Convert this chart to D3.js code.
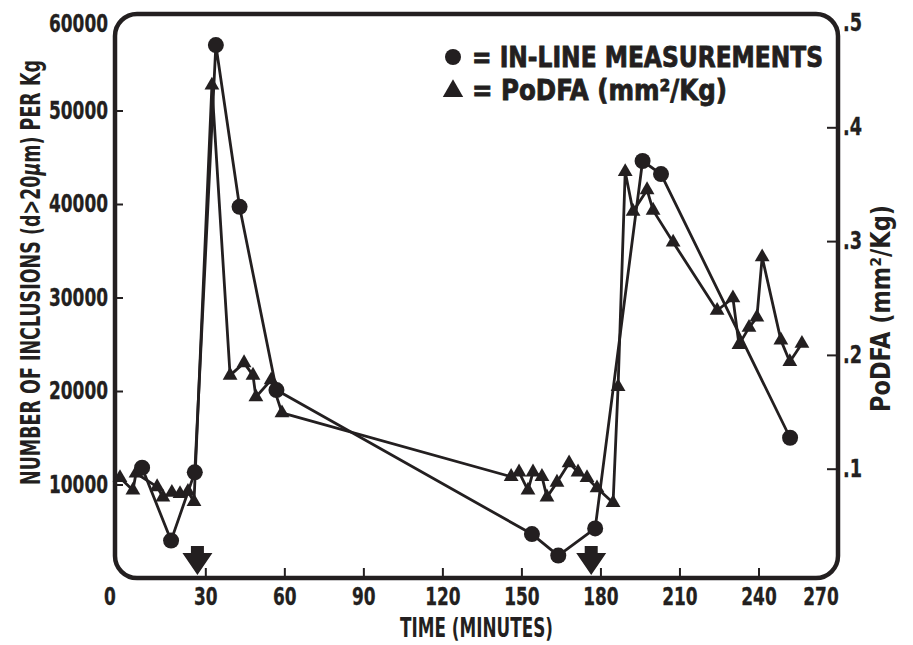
<!DOCTYPE html>
<html><head><meta charset="utf-8">
<script src="https://cdn.jsdelivr.net/npm/d3@7"></script>
<style>
body{margin:0;background:#fff;}
svg{display:block;background:#fff;}
text{font-family:'Liberation Sans Narrow','DejaVu Sans Condensed','DejaVu Sans',sans-serif;font-stretch:condensed;font-weight:bold;fill:#231f20;}
</style></head><body>
<svg id="chart" width="913" height="645"></svg>
<script>
// ---- data ----
const inlineTime  = [6, 17, 26, 34, 43, 57, 154, 164, 178, 196, 203, 252];
const inlineCount = [11800, 4000, 11300, 57000, 39700, 20100, 4700, 2400, 5300, 44600, 43200, 15000];

const podfaTime = [-2.4, 2.5, 3.7, 11.7, 13.9, 17.3, 20.4, 23.4, 25.7, 32.5, 39.4, 44.7, 48.1, 49.2, 55, 59.1,
                   146.1, 149.1, 152.5, 154.4, 157.8, 159.7, 163.5, 168.1, 171.5, 174.9, 178.7, 184.8, 186.7,
                   189.4, 192.4, 197.7, 200, 207.6, 224.3, 230.3, 232.6, 236.4, 239.4, 241.4, 248.5, 251.9, 256.5];
const podfaArea = [0.092, 0.081, 0.096, 0.084, 0.075, 0.079, 0.078, 0.080, 0.071, 0.437, 0.182, 0.193, 0.182, 0.163, 0.178, 0.149,
                   0.093, 0.097, 0.081, 0.097, 0.093, 0.075, 0.088, 0.105, 0.097, 0.092, 0.083, 0.070, 0.172,
                   0.361, 0.326, 0.345, 0.327, 0.299, 0.239, 0.250, 0.209, 0.224, 0.233, 0.286, 0.213, 0.194, 0.210];

const arrowTime = [27, 176.5];

const xTicks = [0, 30, 60, 90, 120, 150, 180, 210, 240, 270];
const leftTicks = [10000, 20000, 30000, 40000, 50000, 60000];
const rightTicks = [0.1, 0.2, 0.3, 0.4, 0.5];

const legendLabels = ["= IN-LINE MEASUREMENTS", "= PoDFA (mm\u00B2/Kg)"];
const xTitle = "TIME (MINUTES)";
const rightTitle = "PoDFA (mm\u00B2/Kg)";

// ---- layout ----
const ink = "#231f20";
const frame = {x0: 115, x1: 838, y0: 14, y1: 578};
const svg = d3.select("#chart");
svg.append("rect").attr("width", 913).attr("height", 645).attr("fill", "#fff");

const x = d3.scaleLinear().domain([0, 270]).range([126.3, 837.5]);
const yL = d3.scaleLinear().domain([0, 60000]).range([578, 17]);
const yR = d3.scaleLinear().domain([0, 0.5]).range([582.5, 13.5]);

// frame
svg.append("rect")
  .attr("x", frame.x0).attr("y", frame.y0)
  .attr("width", frame.x1 - frame.x0).attr("height", frame.y1 - frame.y0)
  .attr("rx", 22).attr("ry", 22)
  .attr("fill", "none").attr("stroke", ink).attr("stroke-width", 4.5);

function styleAxis(g) {
  g.select(".domain").remove();
  g.selectAll(".tick line").attr("stroke", ink).attr("stroke-width", 2);
  g.selectAll(".tick text").attr("fill", ink).attr("font-family", null).attr("font-size", null)
    .style("font-size", "24px").style("font-weight", "bold")
    .attr("stroke", ink).attr("stroke-width", 0.3)
    .attr("lengthAdjust", "spacingAndGlyphs")
    .attr("textLength", function() {
      const s = this.textContent;
      return s.startsWith(".") ? 19 : s.length * 11.8;
    });
}

// left axis
const gL = svg.append("g").attr("transform", `translate(${frame.x0},0)`)
  .call(d3.axisLeft(yL).tickValues(leftTicks).tickSize(-8).tickPadding(7).tickFormat(d3.format("d")));
styleAxis(gL);
gL.selectAll(".tick").filter(d => d === 60000).select("line").remove();
gL.selectAll(".tick").filter(d => d === 60000).select("text").attr("y", 7);

// right axis
const fmtR = d => d3.format(".1f")(d).replace(/^0/, "");
const gR = svg.append("g").attr("transform", `translate(${frame.x1},0)`)
  .call(d3.axisRight(yR).tickValues(rightTicks).tickSize(-11).tickPadding(5).tickFormat(fmtR));
styleAxis(gR);
gR.selectAll(".tick").filter(d => d === 0.5).select("line").remove();
gR.selectAll(".tick").filter(d => d === 0.5).select("text").attr("y", 9);

// bottom axis
const gB = svg.append("g").attr("transform", `translate(0,${frame.y1})`)
  .call(d3.axisBottom(x).tickValues(xTicks).tickSize(-10).tickPadding(10).tickFormat(d3.format("d")));
styleAxis(gB);
gB.selectAll(".tick").filter(d => d === 0 || d === 270).select("line").remove();
gB.selectAll(".tick").filter(d => d === 0 || d === 270).select("text").attr("x", -17);

// axis titles
svg.append("text")
  .attr("transform", "translate(40,272.5) rotate(-90)")
  .attr("text-anchor", "middle")
  .attr("textLength", 425).attr("lengthAdjust", "spacingAndGlyphs")
  .style("font-size", "27px")
  .call(t => {
    t.append("tspan").text("NUMBER OF INCLUSIONS (d>20");
    t.append("tspan").style("font-style", "italic").text("\u03BC");
    t.append("tspan").text("m) PER Kg");
  });

svg.append("text")
  .attr("transform", "translate(890,308.5) rotate(-90)")
  .attr("text-anchor", "middle")
  .attr("textLength", 207).attr("lengthAdjust", "spacingAndGlyphs")
  .style("font-size", "27px")
  .text(rightTitle);

svg.append("text")
  .attr("x", 476.5).attr("y", 637)
  .attr("text-anchor", "middle")
  .attr("textLength", 153).attr("lengthAdjust", "spacingAndGlyphs")
  .style("font-size", "26px")
  .text(xTitle);

// data lines
const inlineData = inlineTime.map((t, i) => ({t, v: inlineCount[i]}));
const podfaData = podfaTime.map((t, i) => ({t, v: podfaArea[i]}));

svg.append("path").datum(podfaData)
  .attr("fill", "none").attr("stroke", ink).attr("stroke-width", 2.8).attr("stroke-linejoin", "round")
  .attr("d", d3.line().x(d => x(d.t)).y(d => yR(d.v)));
svg.append("path").datum(inlineData)
  .attr("fill", "none").attr("stroke", ink).attr("stroke-width", 2.8).attr("stroke-linejoin", "round")
  .attr("d", d3.line().x(d => x(d.t)).y(d => yL(d.v)));

// markers
const tri = d3.symbol().type(d3.symbolTriangle).size(95);
svg.append("g").selectAll("path").data(podfaData).join("path")
  .attr("transform", d => `translate(${x(d.t)},${yR(d.v)})`)
  .attr("d", tri).attr("fill", ink);

svg.append("g").selectAll("circle").data(inlineData).join("circle")
  .attr("cx", d => x(d.t)).attr("cy", d => yL(d.v)).attr("r", 8).attr("fill", ink);

// arrows
const arrowPath = (cx) => {
  const p = d3.path();
  p.moveTo(cx - 6.5, 546); p.lineTo(cx + 6.5, 546); p.lineTo(cx + 6.5, 553);
  p.lineTo(cx + 15, 553); p.lineTo(cx, 575); p.lineTo(cx - 15, 553);
  p.lineTo(cx - 6.5, 553); p.closePath();
  return p.toString();
};
svg.append("g").selectAll("path").data(arrowTime).join("path")
  .attr("d", d => arrowPath(x(d))).attr("fill", ink);

// legend
const lg = svg.append("g");
lg.append("circle").attr("cx", 453).attr("cy", 57).attr("r", 8).attr("fill", ink);
lg.append("path").attr("transform", "translate(453,91)")
  .attr("d", d3.symbol().type(d3.symbolTriangle).size(180)).attr("fill", ink);
lg.append("text").attr("x", 472).attr("y", 67)
  .attr("textLength", 351).attr("lengthAdjust", "spacingAndGlyphs")
  .attr("stroke", ink).attr("stroke-width", 0.8)
  .style("font-size", "28px").text(legendLabels[0]);
lg.append("text").attr("x", 472).attr("y", 100)
  .attr("textLength", 255).attr("lengthAdjust", "spacingAndGlyphs")
  .attr("stroke", ink).attr("stroke-width", 0.8)
  .style("font-size", "28px").text(legendLabels[1]);
</script>
</body></html>
